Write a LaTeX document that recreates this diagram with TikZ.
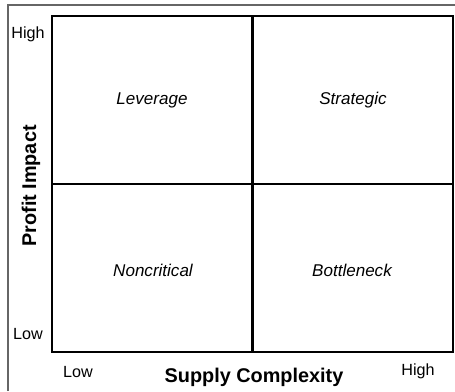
\documentclass[tikz,border=0pt]{standalone}
\usepackage{fontspec}
\setmainfont{Liberation Sans}
\begin{document}
\begin{tikzpicture}[x=0.02cm,y=-0.02cm,
    tick/.style={font=\fontsize{9.2}{11}\selectfont},
    quad/.style={font=\fontsize{9.7}{12}\selectfont\itshape},
    axis/.style={font=\fontsize{11.3}{14}\selectfont\bfseries}]
    \useasboundingbox (0,0) rectangle (455,391);
    % outer frame, only top and left show
    \draw[black!60,line width=0.6pt] (8,391)--(8,5)--(455,5);
    % the four quadrants
    \draw[line width=1.2pt] (52,16) rectangle (453,352);
    \draw[line width=1.2pt] (252.5,16)--(252.5,352);
    \draw[line width=1.2pt] (52,184)--(453,184);
    \node[quad] (lev) at (152,100) {Leverage};
    \node[quad] (str) at (353,100) {Strategic};
    \node[quad] (non) at (153,270) {Noncritical};
    \node[quad] (bot) at (352,270) {Bottleneck};
    % axes
    \node[tick] (yhi) at (28,34) {High};
    \node[tick] (ylo) at (28,334) {Low};
    \node[tick] (xlo) at (78,372) {Low};
    \node[tick] (xhi) at (418,371) {High};
    \node[axis] (xlab) at (254,377) {Supply Complexity};
    \node[axis,rotate=90] (ylab) at (31,186) {Profit Impact};
\end{tikzpicture}
\end{document}
